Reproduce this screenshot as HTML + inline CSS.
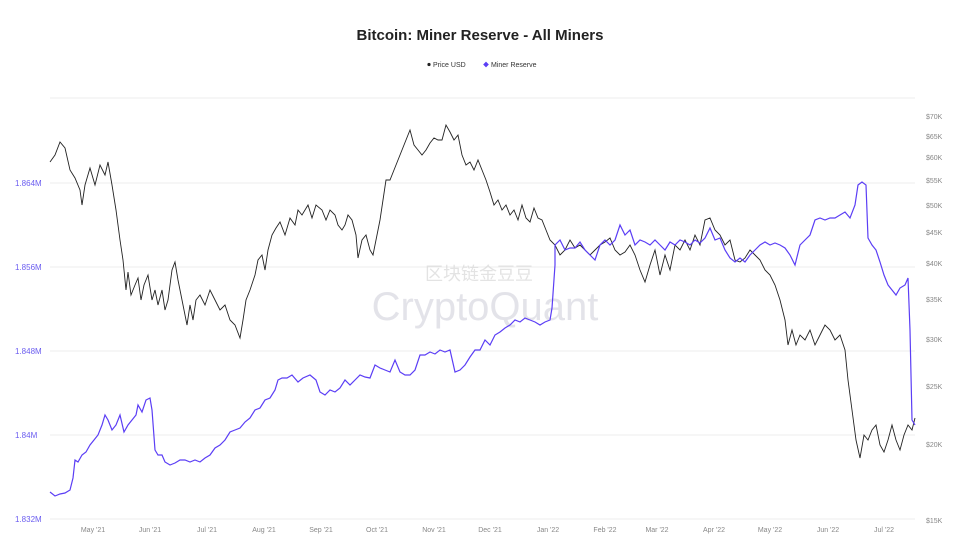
<!DOCTYPE html>
<html><head><meta charset="utf-8"><style>
body{margin:0;background:#fff;width:961px;height:548px;overflow:hidden;font-family:"Liberation Sans",sans-serif}
</style></head><body>
<svg width="961" height="548" xmlns="http://www.w3.org/2000/svg" font-family="Liberation Sans, sans-serif">
<rect width="961" height="548" fill="#fff"/>
<text x="480" y="40" text-anchor="middle" font-size="15" font-weight="bold" fill="#222">Bitcoin: Miner Reserve - All Miners</text>
<circle cx="429" cy="64.5" r="1.6" fill="#222"/><text x="433" y="67" font-size="7" fill="#333">Price USD</text>
<rect x="484" y="62.5" width="4" height="4" fill="#5b3ef5" transform="rotate(45 486 64.5)"/><text x="491" y="67" font-size="7" fill="#333">Miner Reserve</text>
<g stroke="#ececec" stroke-width="1">
<line x1="50" y1="98" x2="915" y2="98"/><line x1="50" y1="183" x2="915" y2="183"/><line x1="50" y1="267" x2="915" y2="267"/><line x1="50" y1="351" x2="915" y2="351"/><line x1="50" y1="435" x2="915" y2="435"/><line x1="50" y1="519" x2="915" y2="519"/>
</g>
<g font-size="8" fill="#6a5cf0">
<text x="15" y="186">1.864M</text><text x="15" y="270">1.856M</text><text x="15" y="354">1.848M</text><text x="15" y="438">1.84M</text><text x="15" y="522">1.832M</text>
</g>
<g font-size="7" fill="#888">
<text x="926" y="119">$70K</text><text x="926" y="139">$65K</text><text x="926" y="160">$60K</text><text x="926" y="183">$55K</text><text x="926" y="208">$50K</text><text x="926" y="235">$45K</text><text x="926" y="266">$40K</text><text x="926" y="302">$35K</text><text x="926" y="342">$30K</text><text x="926" y="389">$25K</text><text x="926" y="447">$20K</text><text x="926" y="523">$15K</text>
</g>
<g font-size="7" fill="#888" text-anchor="middle">
<text x="93" y="532">May '21</text><text x="150" y="532">Jun '21</text><text x="207" y="532">Jul '21</text><text x="264" y="532">Aug '21</text><text x="321" y="532">Sep '21</text><text x="377" y="532">Oct '21</text><text x="434" y="532">Nov '21</text><text x="490" y="532">Dec '21</text><text x="548" y="532">Jan '22</text><text x="605" y="532">Feb '22</text><text x="657" y="532">Mar '22</text><text x="714" y="532">Apr '22</text><text x="770" y="532">May '22</text><text x="828" y="532">Jun '22</text><text x="884" y="532">Jul '22</text>
</g>
<text x="485" y="320" text-anchor="middle" font-size="40" fill="#d8d8e0" opacity="0.7">CryptoQuant</text>
<text x="425" y="280" font-size="18" fill="#d8d8d8" opacity="0.7" font-family="Liberation Sans, Noto Sans CJK SC, sans-serif">区块链金豆豆</text>
<polyline fill="none" stroke="#222" stroke-width="0.9" points="50,162 55,155 60,142 65,148 70,170 75,178 80,190 82,205 85,185 90,168 95,185 100,165 105,175 108,162 112,185 116,210 120,240 123,260 126,290 128,272 131,295 135,285 138,278 141,300 144,285 148,275 152,300 155,290 158,305 162,290 165,310 168,300 172,270 175,262 178,280 181,295 184,310 187,325 190,305 193,320 196,300 200,295 205,305 210,290 215,300 220,310 225,305 230,320 235,325 240,338 243,320 246,300 250,290 255,275 258,260 262,255 265,270 268,250 272,235 276,228 280,222 285,235 290,218 295,225 298,210 302,215 308,205 312,218 316,205 322,210 326,220 330,210 335,215 338,225 342,230 345,225 348,215 352,220 356,235 358,258 362,240 366,235 370,250 373,255 376,240 380,220 383,200 386,180 390,180 394,170 398,160 402,150 406,140 410,130 414,145 418,150 422,155 426,150 430,143 434,138 438,140 442,140 446,125 450,132 454,140 458,135 462,155 466,165 470,162 474,170 478,160 482,170 486,180 490,192 494,205 498,200 502,210 506,205 510,215 514,210 518,220 522,205 526,218 530,222 534,208 538,218 542,220 546,230 550,240 555,245 560,255 565,250 570,240 575,248 580,245 585,250 590,255 595,250 600,245 605,242 610,238 615,250 620,255 625,252 630,245 635,255 640,270 645,282 650,265 655,250 660,275 665,255 670,270 675,245 680,250 685,240 690,250 695,235 700,245 705,220 710,218 715,230 720,235 725,245 730,240 735,260 740,262 745,258 750,250 755,255 760,260 765,270 770,275 775,285 780,300 785,320 788,345 792,330 796,345 800,335 805,340 810,330 815,345 820,335 825,325 830,330 835,340 840,335 845,350 848,380 852,410 856,440 860,458 864,435 868,440 872,430 876,425 880,445 884,452 888,440 892,425 896,440 900,450 904,435 908,425 912,430 915,418"/>
<polyline fill="none" stroke="#5b3ef5" stroke-width="1.2" points="50,492 55,496 60,494 65,493 70,490 73,478 75,460 78,462 82,455 86,452 90,445 94,440 98,435 102,425 105,415 108,420 112,430 116,425 120,415 124,432 128,425 132,420 136,415 138,405 142,412 146,400 150,398 152,410 155,450 158,455 162,455 165,462 170,465 175,463 180,460 185,460 190,462 195,460 200,462 205,458 210,455 215,448 220,445 225,440 230,432 235,430 240,428 245,422 250,418 255,410 260,408 265,400 270,398 275,390 278,380 282,378 287,378 292,375 298,382 303,378 310,375 316,380 320,392 325,395 330,390 335,392 340,388 345,380 350,385 355,380 360,375 365,377 370,378 375,365 380,368 385,370 390,372 395,360 400,372 405,375 410,375 415,370 420,355 425,355 430,352 435,354 440,350 445,352 450,350 455,372 460,370 465,365 470,357 475,350 480,350 485,340 490,345 495,335 500,332 505,328 510,325 515,320 520,322 525,318 530,320 535,322 540,325 545,322 550,320 552,308 555,265 555,245 560,240 565,250 570,248 575,248 580,242 585,250 590,255 595,260 600,245 605,240 610,245 615,240 620,225 625,235 630,230 635,245 640,240 645,242 650,245 655,240 660,245 665,250 670,242 675,245 680,240 685,242 690,245 695,240 700,243 705,238 710,228 715,240 720,238 725,250 730,258 735,262 740,258 745,262 750,255 755,250 760,245 765,242 770,245 775,243 780,245 785,248 790,255 795,265 800,245 805,240 810,235 815,220 820,218 825,220 830,218 835,218 840,215 845,212 850,218 855,205 858,185 862,182 866,185 868,238 872,245 876,250 880,262 884,275 888,285 892,290 896,295 900,288 905,285 908,278 910,330 912,420 915,425"/>
</svg>
</body></html>
